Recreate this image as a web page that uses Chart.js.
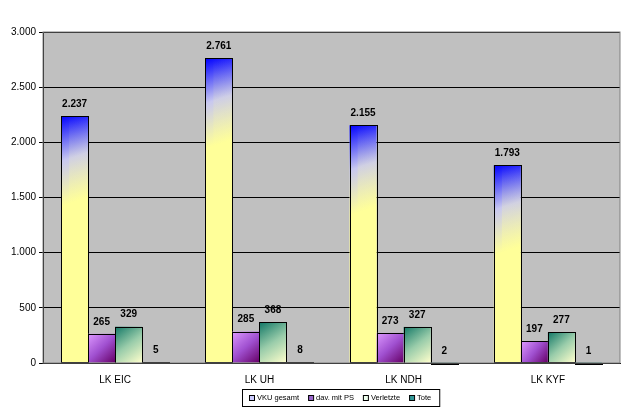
<!DOCTYPE html>
<html><head><meta charset="utf-8">
<script src="https://cdn.jsdelivr.net/npm/chart.js@4"></script>
<style>body{margin:0;background:#fff}#wrap{width:644px;height:414px}</style>
</head><body><div id="wrap"><canvas id="c"></canvas></div>
<script>
var categories = ["LK EIC", "LK UH", "LK NDH", "LK KYF"];
var vku = [2237, 2761, 2155, 1793];
var davPS = [265, 285, 273, 197];
var verletzte = [329, 368, 327, 277];
var tote = [5, 8, 2, 1];
var seriesNames = ["VKU gesamt", "dav. mit PS", "Verletzte", "Tote"];
var grads = [["#0000ff", "#c8c8f0", "#ffff99"], ["#dd99ff", "#a050d0", "#660066"], ["#117766", "#99ccaa", "#ffffcc"], ["#004444", "#227766", "#339988"]];
var legendColors = ["#ccccff", "#9966cc", "#eeffee", "#339999"];
var fmt = new Intl.NumberFormat("de-DE");

var plotBg = {
  id: "plotBg",
  beforeDraw(chart) {
    var a = chart.chartArea, ctx = chart.ctx;
    ctx.save();
    ctx.fillStyle = "#c0c0c0";
    ctx.fillRect(a.left, a.top, a.right - a.left, a.bottom - a.top);
    ctx.restore();
  },
  afterDatasetsDraw(chart) {
    var ctx = chart.ctx, a = chart.chartArea;
    ctx.save();
    // gradient fills per bar
    chart.data.datasets.forEach(function (ds, di) {
      chart.getDatasetMeta(di).data.forEach(function (el) {
        var x0 = el.x - el.width / 2, top = Math.min(el.y, el.base), h = Math.abs(el.base - el.y);
        var g = ctx.createLinearGradient(x0, top, x0 + el.width, top + Math.min(h, el.width * 3));
        g.addColorStop(0, grads[di][0]);
        g.addColorStop(0.5, grads[di][1]);
        g.addColorStop(1, grads[di][2]);
        if (h > 0) {
          ctx.fillStyle = g;
          ctx.fillRect(x0, top, el.width, h);
          if (h > el.width * 3) {
            var v = ctx.createLinearGradient(0, top, 0, top + h);
            v.addColorStop(0, "rgba(255,255,153,0)");
            v.addColorStop(1, "rgba(255,255,153,0.9)");
            ctx.fillStyle = v;
            ctx.fillRect(x0 + el.width * 0.3, top, el.width * 0.7, h);
          }
        }
        ctx.strokeStyle = "#000";
        ctx.lineWidth = 1;
        ctx.strokeRect(Math.round(x0) + 0.5, Math.round(top) + 0.5, Math.round(el.width), Math.max(1, Math.round(h)));
      });
    });
    ctx.strokeStyle = "#808080";
    ctx.strokeRect(a.left, a.top, a.right - a.left, a.bottom - a.top);
    ctx.font = "bold 10px Arial, 'Liberation Sans'";
    ctx.fillStyle = "#000";
    ctx.textAlign = "center";
    ctx.textBaseline = "bottom";
    chart.data.datasets.forEach(function (ds, di) {
      chart.getDatasetMeta(di).data.forEach(function (el, i) {
        ctx.fillText(fmt.format(ds.data[i]), el.x, el.y - 7);
      });
    });
    ctx.restore();
  }
};

var legendBox = {
  id: "legendBox",
  afterDraw(chart) {
    var ctx = chart.ctx;
    ctx.save();
    ctx.font = "7.5px Arial, 'Liberation Sans'";
    var total = 0;
    seriesNames.forEach(function (n) { total += 9 + ctx.measureText(n).width + 8; });
    var w = total + 6, h = 17, x = Math.round(341 - w / 2), y = 389;
    ctx.fillStyle = "#fff";
    ctx.fillRect(x, y, w, h);
    ctx.strokeStyle = "#000";
    ctx.strokeRect(x + 0.5, y + 0.5, w, h);
    ctx.textBaseline = "middle";
    var cx = x + 7;
    seriesNames.forEach(function (n, i) {
      ctx.fillStyle = legendColors[i];
      ctx.fillRect(cx, y + 6, 5, 5);
      ctx.strokeStyle = "#000";
      ctx.strokeRect(cx + 0.5, y + 6.5, 5, 5);
      ctx.fillStyle = "#000";
      ctx.fillText(n, cx + 8, y + 9);
      cx += 9 + ctx.measureText(n).width + 8;
    });
    ctx.restore();
  }
};

var sets = [vku, davPS, verletzte, tote].map(function (d, i) {
  return { label: seriesNames[i], data: d, backgroundColor: "rgba(0,0,0,0)", borderWidth: 0 };
});

new Chart(document.getElementById("c"), {
  type: "bar",
  data: { labels: categories, datasets: sets },
  options: {
    responsive: true, maintainAspectRatio: false, animation: false,
    layout: { padding: { top: 32, right: 24, bottom: 25, left: 8 } },
    categoryPercentage: 0.75, barPercentage: 1,
    plugins: { legend: { display: false }, tooltip: { enabled: false } },
    scales: {
      x: {
        grid: { display: false },
        border: { color: "#000" },
        ticks: { color: "#000", font: { family: "Arial, 'Liberation Sans'", size: 10 } }
      },
      y: {
        min: 0, max: 3000,
        ticks: { stepSize: 500, color: "#000", font: { family: "Arial, 'Liberation Sans'", size: 10 },
          callback: function (v) { return fmt.format(v); } },
        grid: { color: "#000", tickLength: 4 },
        border: { color: "#000" }
      }
    }
  },
  plugins: [plotBg, legendBox]
});
</script></body></html>
